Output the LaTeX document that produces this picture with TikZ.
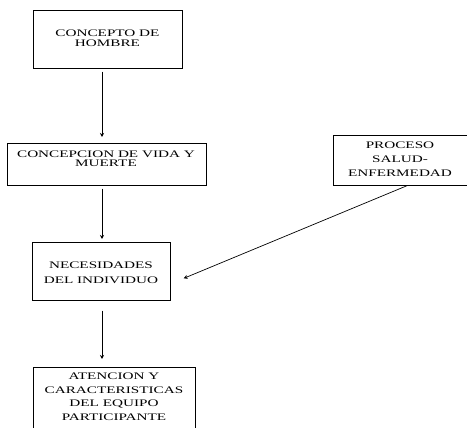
\documentclass[tikz,border=0pt]{standalone}
\usepackage{fontspec}
\newfontfamily\boxfont[FakeStretch=1.52]{Liberation Serif}
\usetikzlibrary{arrows.meta,calc}
\begin{document}
\begin{tikzpicture}[x=1pt,y=-1pt,
  boxshape/.style={draw,line width=0.7pt,inner sep=0pt,anchor=north west},
  label/.style={align=center,inner sep=0pt,font=\boxfont\fontsize{10}{#1}\selectfont},
  link/.style={line width=0.7pt,-{Stealth[length=4pt,width=4pt]}}]
\clip (0,0) rectangle (467,428);
\fill[white] (0,0) rectangle (467,428);
% boxes
\node[boxshape,minimum width=149pt,minimum height=58pt] (b1) at (33,10) {};
\node[boxshape,minimum width=199pt,minimum height=42pt] (b2) at (7,143) {};
\node[boxshape,minimum width=138pt,minimum height=58pt] (b3) at (32,242) {};
\node[boxshape,minimum width=162pt,minimum height=75pt] (b4) at (33,367) {};
\node[boxshape,minimum width=145pt,minimum height=50pt] (b5) at (333,135) {};
% texts
\node[label=10pt] (t1) at (107.5,38.5) {CONCEPTO DE\\HOMBRE};
\node[label=9.5pt] (t2) at (106,158.5) {CONCEPCION DE VIDA Y\\MUERTE};
\node[label=15pt] (t3) at (101,272.5) {NECESIDADES\\DEL INDIVIDUO};
\node[label=13.5pt] (t4) at (114,396.5) {ATENCION Y\\CARACTERISTICAS\\DEL EQUIPO\\PARTICIPANTE};
\node[label=14pt] (t5) at (400,159.5) {PROCESO\\SALUD-\\ENFERMEDAD};
% connectors
\coordinate (ax) at (102,0);
\draw[link] ($(b1.south -| ax)+(0,3)$) -- ($(b2.north -| ax)+(0,-6)$);
\draw[link] ($(b2.south -| ax)+(0,3)$) -- ($(b3.north -| ax)+(0,-3)$);
\draw[link] ($(b3.south -| ax)+(0,10)$) -- ($(b4.north -| ax)+(0,-8)$);
\coordinate (d5) at ($(b5.south west)+(74,0)$);
\coordinate (d3) at ($(b3.east)+(13,7)$);
\draw[link] (d5) -- (d3);
\end{tikzpicture}
\end{document}
